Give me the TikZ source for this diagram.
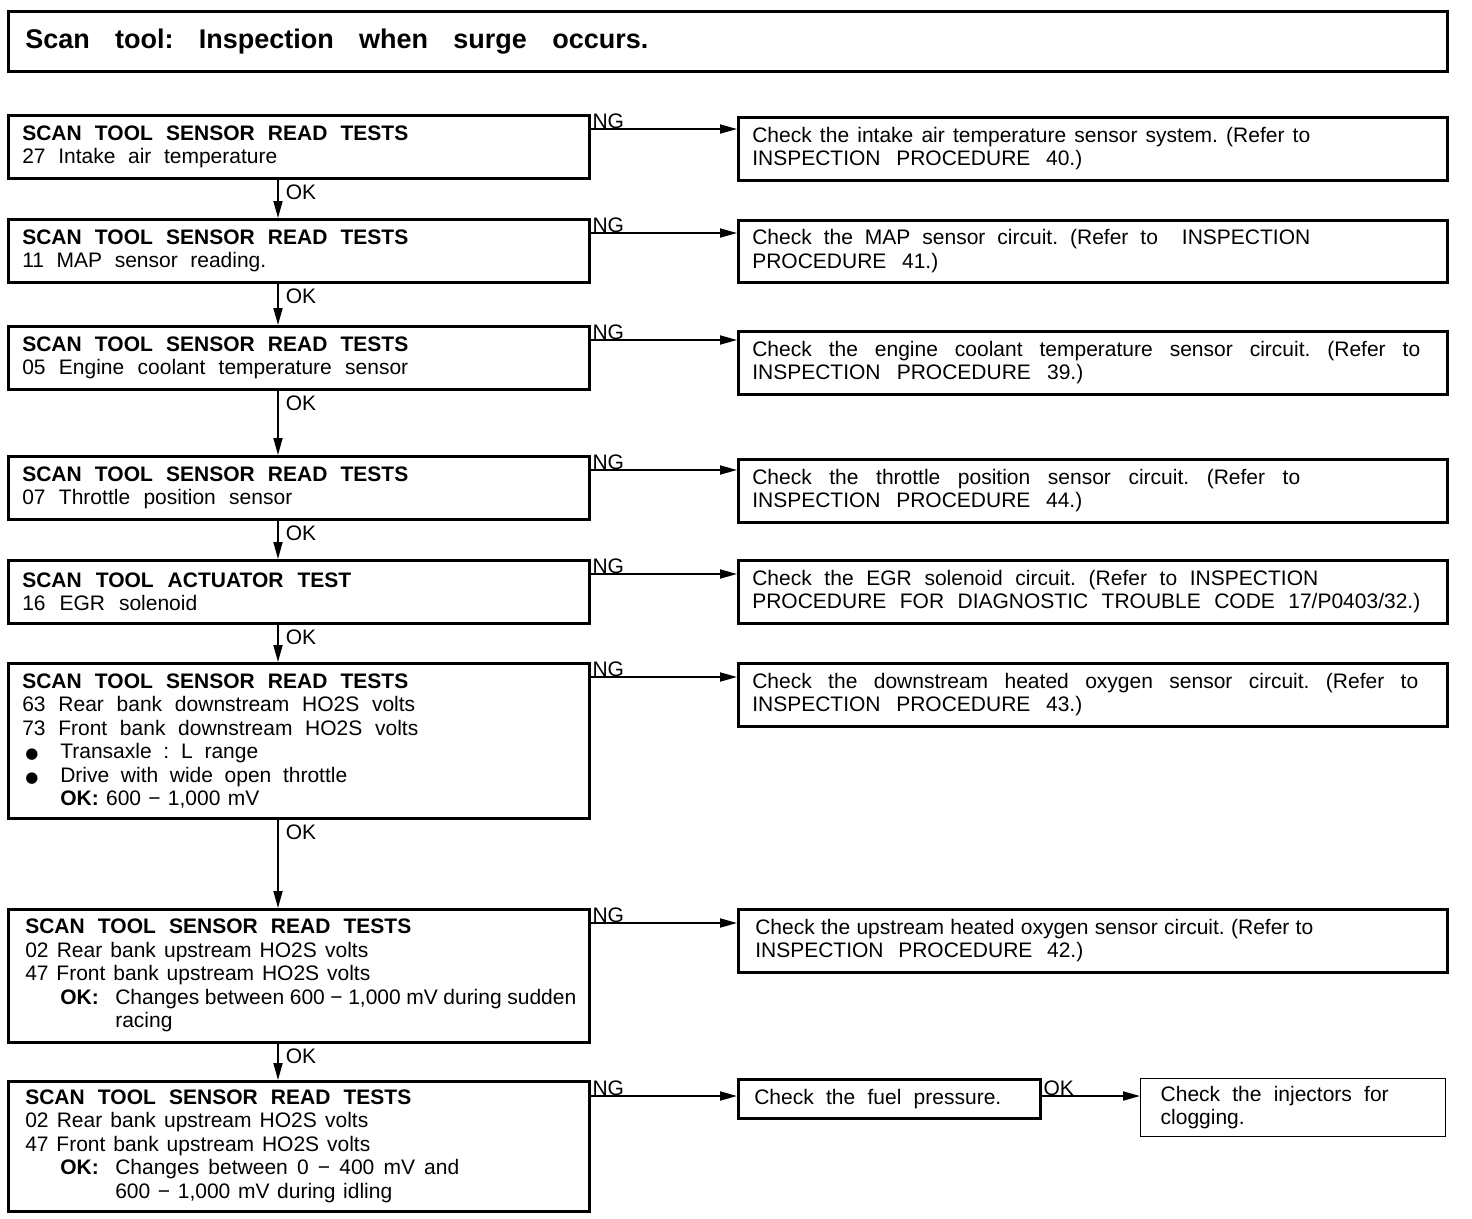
\documentclass[tikz,border=0pt]{standalone}
\usepackage{fontspec}
\setmainfont{Liberation Sans}
\newfontfamily\symfont{DejaVu Sans}
\usetikzlibrary{arrows.meta}
% a line stretched to a given width (in pt)
\newcommand{\fitline}[2]{\makebox[#1pt][s]{\frenchspacing\spaceskip=0pt\xspaceskip=0pt #2}}
\newcommand{\scanhead}{\textbf{\fitline{386}{SCAN TOOL SENSOR READ TESTS}}}
\newcommand{\bigdot}{\makebox[38pt][l]{\hspace{3pt}{\symfont\fontsize{15}{15}\selectfont ●}}}

\begin{document}
\begin{tikzpicture}[x=1pt,y=-1pt,
    txt/.style={font=\fontsize{21}{23.5}\selectfont},
    lbox/.style={txt,draw,line width=2.6pt,anchor=north west,minimum width=581pt,
      text width=553pt,inner xsep=14pt,align=left},
    rbox/.style={txt,draw,line width=2.6pt,anchor=north west,minimum width=709pt,
      text width=681pt,inner xsep=14pt,minimum height=63pt,align=left},
    arr/.style={line width=1.8pt,-{Triangle[length=17pt,width=9pt]}},
    lbl/.style={txt,inner sep=1pt}]
    \useasboundingbox (0,0) rectangle (1472,1218);

    \node[draw,line width=2.6pt,anchor=north west,minimum width=1439pt,minimum height=60pt,
      text width=1405pt,inner xsep=17pt,align=left,font=\bfseries\fontsize{27}{30}\selectfont]
      (title) at (7,10) {\fitline{623}{Scan tool: Inspection when surge occurs.}};

    % left column
    \node[lbox,minimum height=63pt] (s1) at (7,114) {\scanhead\\\fitline{255}{27 Intake air temperature}};
    \node[lbox,minimum height=63pt] (s2) at (7,218) {\scanhead\\\fitline{244}{11 MAP sensor reading.}};
    \node[lbox,minimum height=63pt] (s3) at (7,325) {\scanhead\\\fitline{386}{05 Engine coolant temperature sensor}};
    \node[lbox,minimum height=63pt] (s4) at (7,455) {\scanhead\\\fitline{270}{07 Throttle position sensor}};
    \node[lbox,minimum height=63pt] (s5) at (7,559) {\textbf{\fitline{329}{SCAN TOOL ACTUATOR TEST}}\\\fitline{175}{16 EGR solenoid}};
    \node[lbox,minimum height=155pt] (s6) at (7,662) {\scanhead\\
      \fitline{393}{63 Rear bank downstream HO2S volts}\\
      \fitline{396}{73 Front bank downstream HO2S volts}\\
      \bigdot\fitline{198}{Transaxle : L range}\\
      \bigdot\fitline{287}{Drive with wide open throttle}\\
      \hspace*{38pt}\fitline{199}{\textbf{OK:} 600 − 1,000 mV}};
    \node[lbox,minimum height=133pt,inner xsep=17pt,text width=547pt] (s7) at (7,908) {\scanhead\\
      \fitline{343}{02 Rear bank upstream HO2S volts}\\
      \fitline{345}{47 Front bank upstream HO2S volts}\\
      \hspace*{35pt}\makebox[55pt][l]{\textbf{OK:}}\fitline{461}{Changes between 600 − 1,000 mV during sudden}\\
      \hspace*{90pt}racing};
    \node[lbox,minimum height=130pt,inner xsep=17pt,text width=547pt] (s8) at (7,1080) {\scanhead\\
      \fitline{343}{02 Rear bank upstream HO2S volts}\\
      \fitline{345}{47 Front bank upstream HO2S volts}\\
      \hspace*{35pt}\makebox[55pt][l]{\textbf{OK:}}\fitline{344}{Changes between 0 − 400 mV and}\\
      \hspace*{90pt}\fitline{277}{600 − 1,000 mV during idling}};

    % right column
    \node[rbox] (r1) at (737,116) {\fitline{558}{Check the intake air temperature sensor system. (Refer to}\\
      \fitline{330}{INSPECTION PROCEDURE 40.)}};
    \node[rbox,minimum height=62pt] (r2) at (737,219) {\fitline{558}{Check the MAP sensor circuit. (Refer to \ INSPECTION}\\
      \fitline{186}{PROCEDURE 41.)}};
    \node[rbox] (r3) at (737,330) {\fitline{668}{Check the engine coolant temperature sensor circuit. (Refer to}\\
      \fitline{331}{INSPECTION PROCEDURE 39.)}};
    \node[rbox] (r4) at (737,458) {\fitline{548}{Check the throttle position sensor circuit. (Refer to}\\
      \fitline{330}{INSPECTION PROCEDURE 44.)}};
    \node[rbox] (r5) at (737,559) {\fitline{566}{Check the EGR solenoid circuit. (Refer to INSPECTION}\\
      \fitline{668}{PROCEDURE FOR DIAGNOSTIC TROUBLE CODE 17/P0403/32.)}};
    \node[rbox] (r6) at (737,662) {\fitline{666}{Check the downstream heated oxygen sensor circuit. (Refer to}\\
      \fitline{330}{INSPECTION PROCEDURE 43.)}};
    \node[rbox,inner xsep=17pt,text width=675pt] (r7) at (737,908) {\fitline{558}{Check the upstream heated oxygen sensor circuit. (Refer to}\\
      \fitline{328}{INSPECTION PROCEDURE 42.)}};
    \node[txt,draw,line width=2.6pt,anchor=north west,minimum width=302pt,minimum height=39pt,
      text width=270pt,inner xsep=16pt,align=left] (fuel) at (737,1078) {\fitline{247}{Check the fuel pressure.}};
    \node[txt,draw,line width=1.4pt,anchor=north west,minimum width=305pt,minimum height=58pt,
      text width=265pt,inner xsep=20pt,align=left] (inj) at (1140,1078) {\fitline{228}{Check the injectors for}\\clogging.};

    % OK connectors down the left column
    \coordinate (c) at (278,0);
    \foreach \a/\b in {s1/s2,s2/s3,s3/s4,s4/s5,s5/s6,s6/s7,s7/s8}
      \draw[arr] (\a.south -| c) node[lbl,below right,xshift=6pt,yshift=-3pt] {OK} -- (\b.north -| c);

    % NG connectors to the right
    \foreach \i in {1,...,7} {
      \coordinate (n\i) at ([yshift=-15pt]s\i.north east);
      \draw[arr] (n\i) node[lbl,above right,yshift=-2pt] {NG} -- (n\i -| r\i.west);
    }
    \coordinate (n8) at ([yshift=-16pt]s8.north east);
    \draw[arr] (n8) node[lbl,above right,yshift=-2pt] {NG} -- (n8 -| fuel.west);
    \coordinate (f1) at ([yshift=-18pt]fuel.north east);
    \draw[arr] (f1) node[lbl,above right,yshift=-2pt] {OK} -- (f1 -| inj.west);
  \end{tikzpicture}
\end{document}
